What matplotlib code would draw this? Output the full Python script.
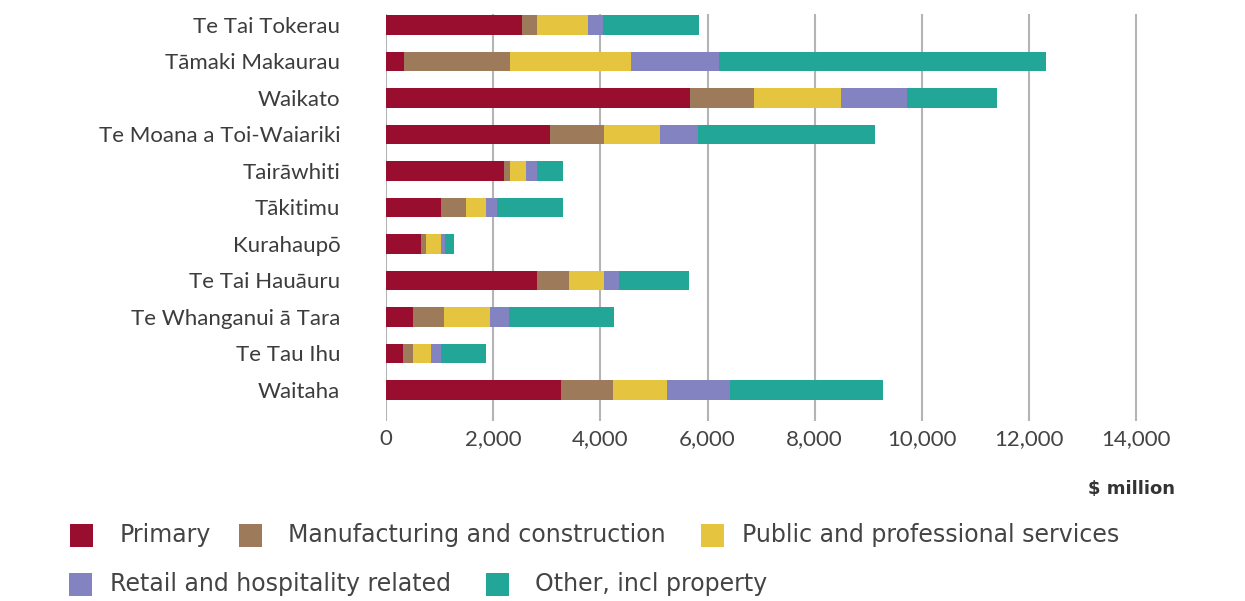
import matplotlib
matplotlib.use("Agg")
import matplotlib.pyplot as plt
from matplotlib.patches import Rectangle
import numpy as np

regions = [
    "Te Tai Tokerau", "Tāmaki Makaurau", "Waikato", "Te Moana a Toi-Waiariki",
    "Tairāwhiti", "Tākitimu", "Kurahaupō", "Te Tai Hauāuru",
    "Te Whanganui ā Tara", "Te Tau Ihu", "Waitaha",
]

# Regional GDP by industry group, $ million
primary       = [2540,  340, 5670, 3055, 2210, 1030, 650, 2825,  510, 325, 3265]
manufacturing = [ 285, 1975, 1205, 1005,  100,  470, 100,  595,  580, 185,  970]
public_prof   = [ 935, 2265, 1620, 1045,  305,  360, 280,  655,  855, 325, 1015]
retail_hosp   = [ 295, 1625, 1235,  720,  195,  215,  75,  280,  345, 195, 1175]
other         = [1780, 6110, 1670, 3300,  495, 1230, 170, 1295, 1970, 840, 2855]

series_names = [
    "Primary", "Manufacturing and construction", "Public and professional services",
    "Retail and hospitality related", "Other, incl property",
]
series_values = [primary, manufacturing, public_prof, retail_hosp, other]
colors = ["#990d2e", "#9c7a5a", "#e5c440", "#8283c0", "#22a697"]

x_ticks = [0, 2000, 4000, 6000, 8000, 10000, 12000, 14000]

W, H = 1245, 601
fig = plt.figure(figsize=(W / 100, H / 100), dpi=100)
fig.patch.set_facecolor("white")

ax_left, ax_right = 386 / W, 1147 / W
ax_top, ax_bottom = 1 - 14 / H, 1 - 421 / H
ax = fig.add_axes([ax_left, ax_bottom, ax_right - ax_left, ax_top - ax_bottom])

ypos = np.arange(len(regions))
left = np.zeros(len(regions))
for name, vals, col in zip(series_names, series_values, colors):
    vals = np.asarray(vals, dtype=float)
    ax.barh(ypos, vals, left=left, height=0.53, color=col, edgecolor="none",
            label=name, zorder=3)
    left += vals

ax.set_xlim(0, 14200)
ax.set_ylim(10.85, -0.30)
ax.set_xticks(x_ticks)
ax.set_xticklabels([f"{t:,}" for t in x_ticks])
ax.set_yticks(ypos)
ax.set_yticklabels(regions)

for s in ax.spines.values():
    s.set_visible(False)
ax.grid(axis="x", color="#b4b4b4", linewidth=1.5, zorder=0)
ax.grid(axis="y", visible=False)
ax.tick_params(axis="x", length=0, pad=6, labelsize=16, labelcolor="#444444")
ax.tick_params(axis="y", length=0, pad=33, labelsize=16, labelcolor="#3c3c3c")
for lab in ax.get_xticklabels():
    lab.set_fontfamily("Lato")
for lab in ax.get_yticklabels():
    lab.set_fontfamily("Lato")

fig.text(1175 / W, 1 - 489 / H, "$ million", ha="right", va="center",
         fontsize=13, fontweight="bold", color="#333333", family="DejaVu Sans")

# Legend laid out in two rows beneath the axis
legend_layout = [
    (70, 535, 120), (239, 535, 288), (701, 535, 742),
    (69, 584, 110), (486, 584, 535),
]
sq = 23
for (sx, cy, tx), name, col in zip(legend_layout, series_names, colors):
    fig.patches.append(Rectangle((sx / W, 1 - (cy + sq / 2) / H), sq / W, sq / H,
                                 transform=fig.transFigure, facecolor=col,
                                 edgecolor="none"))
    fig.text(tx / W, 1 - cy / H, name, ha="left", va="center", fontsize=17,
             color="#444444", family="DejaVu Sans")

fig.savefig("out.png", dpi=100, facecolor="white")
